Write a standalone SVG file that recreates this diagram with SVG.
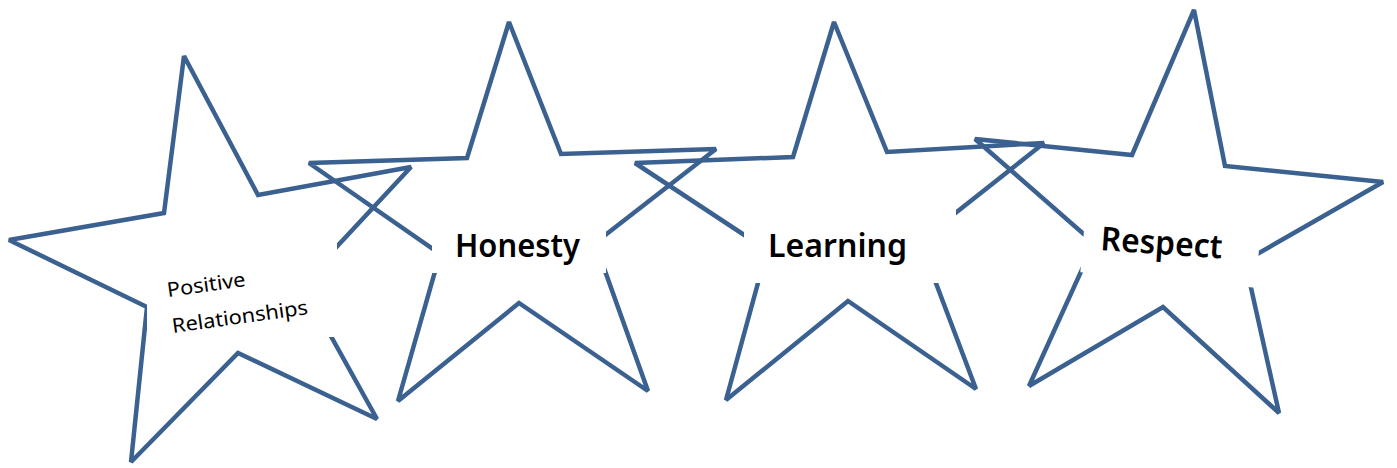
<svg xmlns="http://www.w3.org/2000/svg" width="1397" height="468" viewBox="0 0 1397 468">
  <style>
    .star { fill: none; stroke: #3B6190; stroke-width: 4.5; stroke-linejoin: miter; stroke-miterlimit: 2; }
    .box { fill: #FFFFFF; stroke: none; }
    .lbl { font-family: "Noto Sans", "Open Sans", sans-serif; fill: #000000; }
    .big { font-size: 33px; font-weight: 600; }
    .small { font-size: 20px; }
  </style>
  <rect width="1397" height="468" fill="#FFFFFF"/>
  <g id="connectors"></g>
  <g id="star-positive-relationships">
    <polygon class="star" points="184,56 258,195 411,167 302,284 377,419 238,353 131,462 147,307 9,240 164,213"/>
    <rect class="box" x="147" y="225" width="190" height="112"/>
    <text class="lbl small" transform="rotate(-8 168 297)" x="168" y="297" textLength="79" lengthAdjust="spacingAndGlyphs">Positive</text>
    <text class="lbl small" transform="rotate(-8 173 333)" x="173" y="333" textLength="137" lengthAdjust="spacingAndGlyphs">Relationships</text>
  </g>
  <g id="star-honesty">
    <polygon class="star" points="509,22 561,154 716,149 595,243 648,391 519,303 398,401 440,254 309,163 467,158"/>
    <rect class="box" x="432" y="185" width="174" height="88"/>
    <text class="lbl big" x="455" y="257" textLength="125" lengthAdjust="spacingAndGlyphs">Honesty</text>
  </g>
  <g id="star-learning">
    <polygon class="star" points="834,22 887,152 1044,143 920,241 976,389 848,301 726,400 767,250 635,163 793,157"/>
    <rect class="box" x="744" y="185" width="212" height="98"/>
    <text class="lbl big" x="768" y="257" textLength="139" lengthAdjust="spacingAndGlyphs">Learning</text>
  </g>
  <g id="star-respect">
    <polygon class="star" points="1194,10 1225,166 1383,182 1245,261 1279,413 1163,307 1029,386 1094,243 975,139 1132,155"/>
    <rect class="box" transform="rotate(5 1168 280)" x="1080" y="190" width="176" height="90"/>
    <text class="lbl big" transform="rotate(4 1100 250)" x="1100" y="250" textLength="122" lengthAdjust="spacingAndGlyphs">Respect</text>
  </g>
</svg>
